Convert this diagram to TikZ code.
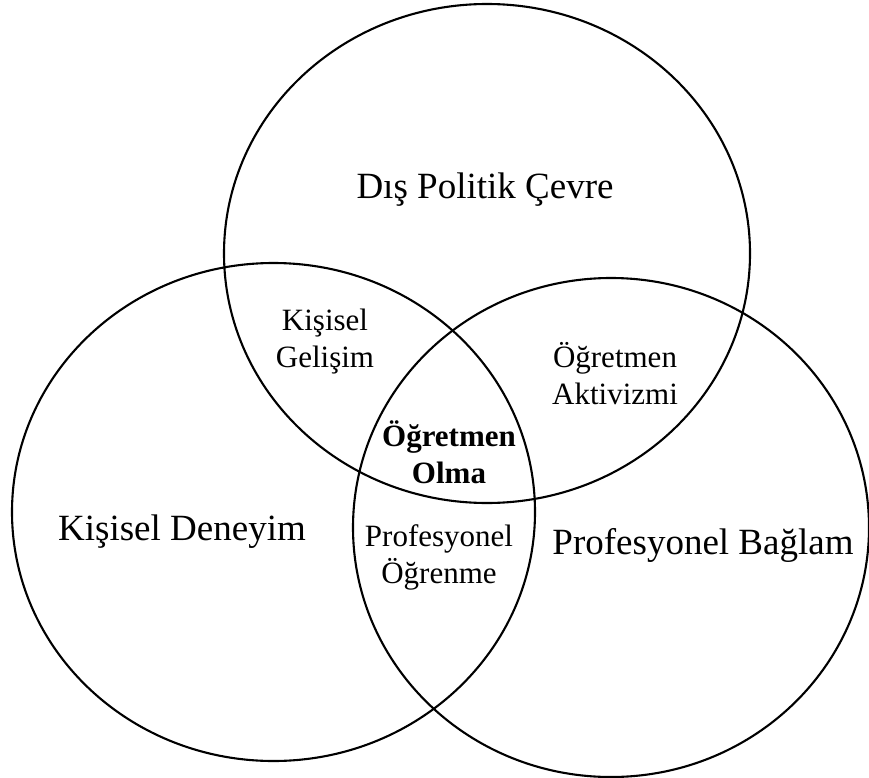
\documentclass[tikz,border=0pt]{standalone}
\usepackage{fontspec}
\setmainfont{Liberation Serif}
\begin{document}
\begin{tikzpicture}[x=1pt,y=-1pt,
  ring/.style={draw=black,line width=2.1pt},
  biglabel/.style={font=\fontsize{37}{44}\selectfont,inner sep=0pt},
  smalllabel/.style={font=\fontsize{31}{37}\selectfont,align=center,inner sep=0pt},
  corelabel/.style={font=\fontsize{31}{37}\selectfont\bfseries,align=center,inner sep=0pt}]
\useasboundingbox[fill=white] (0,0) rectangle (869,778);
\draw[ring] (487,253.5) ellipse [x radius=263, y radius=249.5];
\draw[ring] (273.5,512) ellipse [x radius=261.5, y radius=249];
\draw[ring] (611,527.5) ellipse [x radius=258, y radius=249.5];
\node[biglabel] (dpc) at (485,190) {Dış Politik Çevre};
\node[biglabel] (kd) at (182,532) {Kişisel Deneyim};
\node[biglabel] (pb) at (703,545) {Profesyonel Bağlam};
\node[smalllabel] (kg) at (325,342) {Kişisel\\Gelişim};
\node[smalllabel] (oa) at (615,374) {Öğretmen\\Aktivizmi};
\node[corelabel] (oo) at (449,452) {Öğretmen\\Olma};
\node[smalllabel] (po) at (439,557) {Profesyonel\\Öğrenme};
\end{tikzpicture}
\end{document}
